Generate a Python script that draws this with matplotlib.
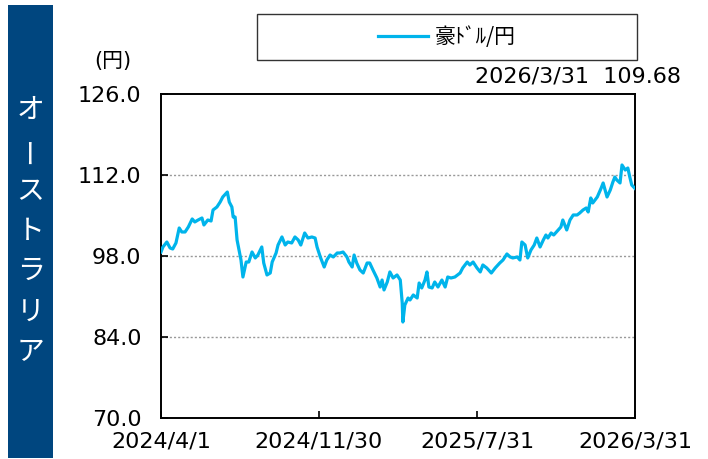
import matplotlib
matplotlib.use("Agg")
import matplotlib.pyplot as plt
import matplotlib.dates as mdates
from matplotlib.patches import Rectangle
from matplotlib.lines import Line2D
import pandas as pd

plt.rcParams['font.family'] = ['DejaVu Sans', 'Noto Sans CJK JP']

# ---- data ----
dates = [
    "2024-04-01", "2024-04-04", "2024-04-10", "2024-04-15", "2024-04-19", "2024-04-24", "2024-04-29",
    "2024-05-03", "2024-05-08", "2024-05-13", "2024-05-19", "2024-05-23", "2024-05-28",
    "2024-06-03", "2024-06-06", "2024-06-12", "2024-06-17", "2024-06-20", "2024-06-26",
    "2024-07-01", "2024-07-05", "2024-07-12", "2024-07-15", "2024-07-19", "2024-07-21", "2024-07-24", "2024-07-27",
    "2024-08-02", "2024-08-05", "2024-08-10", "2024-08-14", "2024-08-19", "2024-08-24", "2024-08-28",
    "2024-09-03", "2024-09-06", "2024-09-11", "2024-09-16", "2024-09-19", "2024-09-25", "2024-09-28",
    "2024-10-04", "2024-10-09", "2024-10-13", "2024-10-19", "2024-10-24", "2024-10-29",
    "2024-11-02", "2024-11-08", "2024-11-13", "2024-11-19", "2024-11-24", "2024-11-27",
    "2024-12-02", "2024-12-08", "2024-12-12", "2024-12-17", "2024-12-22", "2024-12-28",
    "2025-01-01", "2025-01-06", "2025-01-12", "2025-01-15", "2025-01-20", "2025-01-23", "2025-01-27",
    "2025-02-01", "2025-02-06", "2025-02-12", "2025-02-16", "2025-02-21", "2025-02-27",
    "2025-03-04", "2025-03-07", "2025-03-10", "2025-03-15", "2025-03-19", "2025-03-24", "2025-03-30",
    "2025-04-04", "2025-04-07", "2025-04-08", "2025-04-11", "2025-04-16", "2025-04-19", "2025-04-24", "2025-04-30",
    "2025-05-03", "2025-05-07", "2025-05-12", "2025-05-15", "2025-05-18", "2025-05-23", "2025-05-27",
    "2025-06-01", "2025-06-07", "2025-06-12", "2025-06-16", "2025-06-21", "2025-06-27",
    "2025-07-05", "2025-07-09", "2025-07-16", "2025-07-20", "2025-07-25", "2025-07-31",
    "2025-08-05", "2025-08-09", "2025-08-15", "2025-08-22", "2025-08-28",
    "2025-09-04", "2025-09-09", "2025-09-15", "2025-09-20", "2025-09-24",
    "2025-10-01", "2025-10-05", "2025-10-08", "2025-10-13", "2025-10-17", "2025-10-22", "2025-10-27", "2025-10-31",
    "2025-11-05", "2025-11-10", "2025-11-14", "2025-11-17", "2025-11-22", "2025-11-26",
    "2025-12-03", "2025-12-07", "2025-12-10", "2025-12-16", "2025-12-21", "2025-12-26",
    "2026-01-01", "2026-01-05", "2026-01-10", "2026-01-15", "2026-01-18", "2026-01-22", "2026-01-25",
    "2026-02-01", "2026-02-07", "2026-02-10", "2026-02-16", "2026-02-21", "2026-02-25", "2026-02-28",
    "2026-03-03", "2026-03-08", "2026-03-11", "2026-03-16", "2026-03-20", "2026-03-23", "2026-03-26", "2026-03-31",
]
aud_jpy = [
    98.69, 99.56, 100.42, 99.38, 99.21, 100.25, 102.84,
    102.15, 102.15, 103.01, 104.40, 103.88, 104.22,
    104.57, 103.36, 104.22, 104.05, 105.95, 106.47,
    107.33, 108.20, 109.06, 107.33, 106.47, 104.74, 104.74, 100.77,
    97.31, 94.37, 96.96, 96.96, 98.69, 97.66, 98.17,
    99.56, 96.79, 94.72, 95.06, 96.96, 98.52, 99.90,
    101.29, 99.90, 100.42, 100.25, 101.29, 100.77,
    99.90, 101.98, 101.11, 101.29, 101.11, 99.56,
    97.83, 96.10, 97.31, 98.17, 97.83, 98.52,
    98.52, 98.69, 97.83, 96.96, 96.10, 98.17, 96.79,
    95.58, 95.06, 96.79, 96.79, 95.58, 94.20,
    92.64, 93.85, 92.13, 93.51, 95.24, 94.20, 94.72,
    93.85, 89.88, 86.59, 89.53, 90.74, 90.40, 91.26, 90.74,
    93.33, 92.47, 93.85, 95.24, 92.64, 92.47, 93.51,
    92.64, 93.85, 92.64, 94.37, 94.20, 94.37,
    95.06, 95.93, 96.96, 96.45, 96.96, 95.93,
    95.24, 96.45, 95.93, 95.06, 95.93,
    96.79, 97.31, 98.35, 97.83, 97.66,
    97.83, 97.31, 100.42, 99.90, 97.66, 99.04, 99.90, 101.11,
    99.56, 100.77, 101.63, 101.11, 101.98, 101.63,
    102.50, 103.01, 104.22, 102.50, 104.22, 105.09,
    105.09, 105.43, 105.95, 106.30, 105.61, 108.03, 107.16,
    108.20, 109.75, 110.62, 108.20, 109.41, 110.79, 111.65,
    111.14, 110.62, 113.73, 112.86, 113.21, 111.65, 110.27, 109.68,
]
y_ticks = [70.0, 84.0, 98.0, 112.0, 126.0]
x_tick_dates = ["2024-04-01", "2024-11-30", "2025-07-31", "2026-03-31"]
x_tick_labels = ["2024/4/1", "2024/11/30", "2025/7/31", "2026/3/31"]
series_name = "豪ﾄﾞﾙ/円"
country = "オーストラリア"
unit_label = "(円)"
last_label = "2026/3/31  109.68"

# ---- figure ----
W, H = 708, 459
fig = plt.figure(figsize=(W / 100, H / 100), dpi=100)

# left blue panel
fig.patches.append(Rectangle((8 / W, 1 - 458 / H), 45 / W, 453 / H,
                             transform=fig.transFigure, facecolor="#00467F",
                             edgecolor="none", zorder=0))
char_y0 = 110
for i, ch in enumerate(country):
    yy = char_y0 + i * 40.3
    rot = 90 if ch == "ー" else 0
    fig.text(30.5 / W, 1 - yy / H, ch, color="white", fontsize=20,
             family=["Noto Sans CJK JP"], ha="center", va="center", rotation=rot)

# main axes
left, right, top, bottom = 161, 635, 94, 418
ax = fig.add_axes([left / W, 1 - bottom / H, (right - left) / W, (bottom - top) / H])
x = pd.to_datetime(dates)
ax.plot(x, aud_jpy, color="#00B4EB", lw=2.3, solid_joinstyle="round", zorder=3)

ax.set_ylim(70, 126)
ax.set_xlim(pd.Timestamp("2024-04-01"), pd.Timestamp("2026-03-31"))
ax.set_yticks(y_ticks)
ax.set_yticklabels([f"{v:.1f}" for v in y_ticks])
ax.set_xticks(pd.to_datetime(x_tick_dates))
ax.set_xticklabels(x_tick_labels)
ax.tick_params(axis="both", direction="in", length=5, width=1.2, labelsize=16,
               colors="black")
ax.tick_params(axis="y", pad=14)
ax.tick_params(axis="x", pad=10)
for v in y_ticks[1:-1]:
    ax.axhline(v, color="#999999", lw=1.0, ls=(0, (1.5, 1.5)), zorder=1)
for s in ax.spines.values():
    s.set_linewidth(1.4)
    s.set_color("black")

# legend box
fig.patches.append(Rectangle((257 / W, 1 - 60 / H), 380 / W, 46 / H,
                             transform=fig.transFigure, facecolor="white",
                             edgecolor="#333333", lw=1.0, zorder=1))
handle = Line2D([], [], color="#00B4EB", lw=2.3)
leg = fig.legend([handle], [series_name], loc="center",
                 bbox_to_anchor=(447 / W, 1 - 37 / H), frameon=False,
                 handlelength=2.4, handletextpad=0.35,
                 prop={"family": ["Noto Sans CJK JP"], "size": 15})

fig.text(113 / W, 1 - 61 / H, unit_label, fontsize=15, ha="center", va="center")
fig.text(681 / W, 1 - 77 / H, last_label, fontsize=16, ha="right", va="center")

fig.savefig("out.png", dpi=100)
